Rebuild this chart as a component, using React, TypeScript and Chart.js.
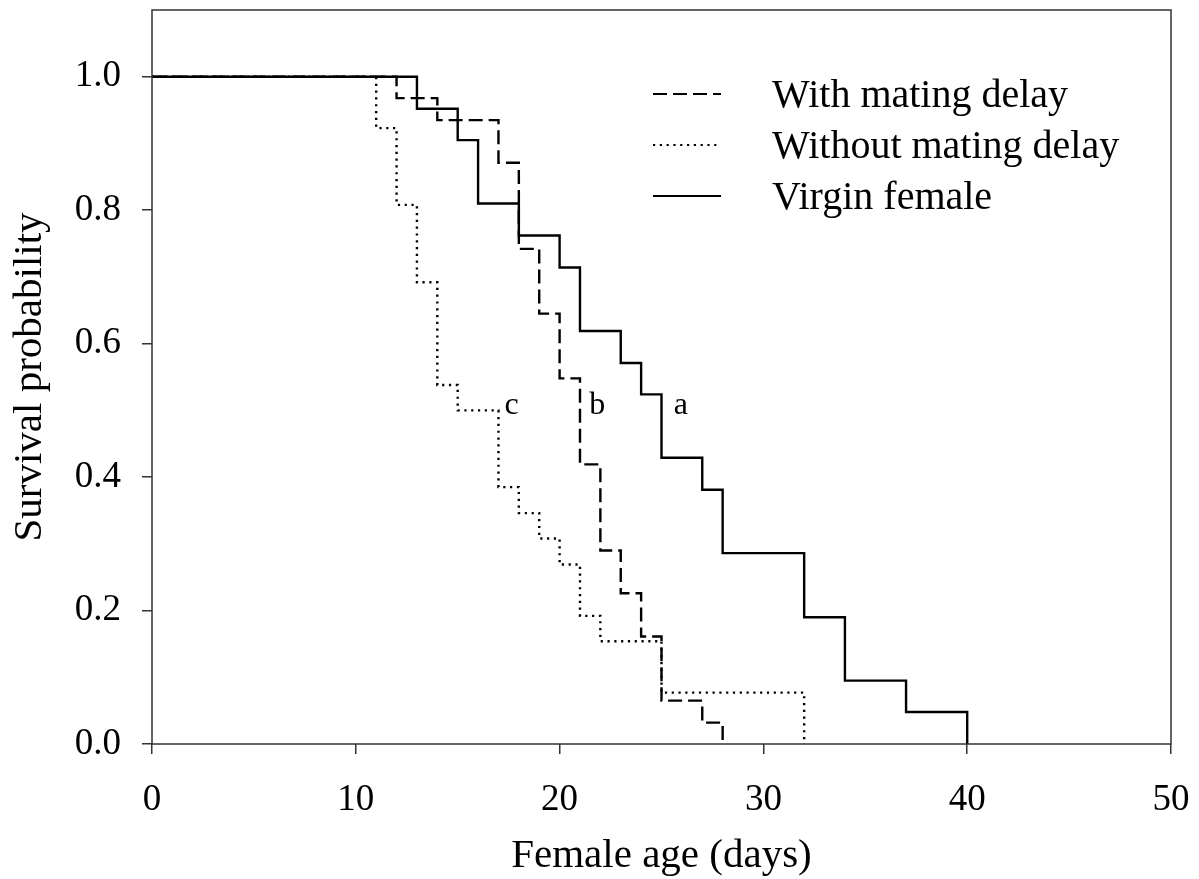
import React, { useEffect, useRef } from "react";
import { Chart, registerables } from "chart.js";

Chart.register(...registerables);

const withDelayDays = [0, 12, 14, 17, 18, 19, 20, 21, 22, 23, 24, 25, 27, 28];
const withDelaySurv = [1.0, 0.968, 0.935, 0.871, 0.742, 0.645, 0.548, 0.419, 0.29, 0.226, 0.161, 0.065, 0.032, 0.0];

const withoutDelayDays = [0, 11, 12, 13, 14, 15, 17, 18, 19, 20, 21, 22, 25, 32];
const withoutDelaySurv = [1.0, 0.923, 0.808, 0.692, 0.538, 0.5, 0.385, 0.346, 0.308, 0.269, 0.192, 0.154, 0.077, 0.0];

const virginDays = [0, 13, 15, 16, 18, 20, 21, 23, 24, 25, 27, 28, 32, 34, 37, 40];
const virginSurv = [1.0, 0.952, 0.905, 0.81, 0.762, 0.714, 0.619, 0.571, 0.524, 0.429, 0.381, 0.286, 0.19, 0.095, 0.048, 0.0];

const seriesNames = ["With mating delay", "Without mating delay", "Virgin female"];

const xTicks = [0, 10, 20, 30, 40, 50];
const yTicks = [0, 0.2, 0.4, 0.6, 0.8, 1.0];

const letterLabels = ["c", "b", "a"];
const letterX = [17.65, 21.85, 25.95];
const letterY = [0.51, 0.51, 0.51];

const FONT = "'Liberation Serif', 'Times New Roman', serif";

function toPoints(xs: number[], ys: number[]) {
  return xs.map((x, i) => ({ x, y: ys[i] }));
}

export default function App() {
  const ref = useRef<HTMLCanvasElement | null>(null);

  useEffect(() => {
    document.body.style.margin = "0";
    const canvas = ref.current;
    if (!canvas) return;

    const dashes = [[14, 6], [2.2, 4.6], []];

    const extras = {
      id: "extras",
      afterDatasetsDraw(chart: any) {
        const ctx = chart.ctx;
        const { left, right, top, bottom } = chart.chartArea;
        const xs = chart.scales.x;
        const ys = chart.scales.y;
        ctx.save();
        // frame
        ctx.strokeStyle = "#333";
        ctx.lineWidth = 1.5;
        ctx.setLineDash([]);
        ctx.strokeRect(left, top, right - left, bottom - top);
        // letters
        ctx.fillStyle = "#000";
        ctx.font = `32px ${FONT}`;
        ctx.textAlign = "center";
        ctx.textBaseline = "alphabetic";
        letterLabels.forEach((t, i) => {
          ctx.fillText(t, xs.getPixelForValue(letterX[i]), ys.getPixelForValue(letterY[i]) + 10);
        });
        // legend
        ctx.font = `40px ${FONT}`;
        ctx.textAlign = "left";
        ctx.textBaseline = "middle";
        const rowY = [94, 145, 196];
        seriesNames.forEach((name, i) => {
          ctx.beginPath();
          ctx.setLineDash(dashes[i]);
          ctx.lineWidth = 2;
          ctx.strokeStyle = "#000";
          ctx.moveTo(653, rowY[i]);
          ctx.lineTo(721, rowY[i]);
          ctx.stroke();
          ctx.setLineDash([]);
          ctx.fillText(name, 772, rowY[i] + 2);
        });
        ctx.restore();
      },
    };

    const chart = new Chart(canvas, {
      type: "line",
      data: {
        datasets: [
          {
            label: seriesNames[2],
            data: toPoints(virginDays, virginSurv),
            borderColor: "#000",
            borderWidth: 2.4,
            stepped: true,
            pointRadius: 0,
            fill: false,
            order: 0,
          },
          {
            label: seriesNames[0],
            data: toPoints(withDelayDays, withDelaySurv),
            borderColor: "#000",
            borderWidth: 2.4,
            borderDash: dashes[0],
            stepped: true,
            pointRadius: 0,
            fill: false,
            order: 1,
          },
          {
            label: seriesNames[1],
            data: toPoints(withoutDelayDays, withoutDelaySurv),
            borderColor: "#000",
            borderWidth: 2.4,
            borderDash: dashes[1],
            stepped: true,
            pointRadius: 0,
            fill: false,
            order: 2,
          },
        ],
      },
      options: {
        animation: false,
        responsive: false,
        maintainAspectRatio: false,
        layout: { padding: { left: 0, top: 10, right: 28, bottom: 0 } },
        plugins: { legend: { display: false }, tooltip: { enabled: false } },
        scales: {
          x: {
            type: "linear",
            min: 0,
            max: 50,
            afterFit: (s: any) => {
              s.height = 135;
              s.paddingLeft = 0;
              s.paddingRight = 0;
            },
            afterBuildTicks: (s: any) => {
              s.ticks = xTicks.map((v) => ({ value: v }));
            },
            border: { display: false },
            grid: { drawOnChartArea: false, drawTicks: true, tickLength: 10, color: "#333", lineWidth: 1.5 },
            ticks: { color: "#000", font: { family: FONT, size: 37 }, padding: 24, maxRotation: 0, autoSkip: false },
            title: {
              display: true,
              text: "Female age (days)",
              color: "#000",
              font: { family: FONT, size: 41, lineHeight: 1.0 },
              padding: { top: 0, bottom: 2 },
            },
          },
          y: {
            type: "linear",
            min: 0,
            max: 1.1,
            afterFit: (s: any) => {
              s.width = 152;
              s.paddingTop = 0;
              s.paddingBottom = 0;
            },
            afterBuildTicks: (s: any) => {
              s.ticks = yTicks.map((v) => ({ value: v }));
            },
            border: { display: false },
            grid: { drawOnChartArea: false, drawTicks: true, tickLength: 10, color: "#333", lineWidth: 1.5 },
            ticks: {
              color: "#000",
              font: { family: FONT, size: 37 },
              padding: 21,
              autoSkip: false,
              callback: (v: any) => Number(v).toFixed(1),
            },
            title: {
              display: true,
              text: "Survival probability",
              color: "#000",
              font: { family: FONT, size: 41, lineHeight: 1.0 },
              padding: { top: 10, bottom: 0 },
            },
          },
        },
      },
      plugins: [extras],
    });

    return () => chart.destroy();
  }, []);

  return (
    <div style={{ width: 1199, height: 879, background: "#fff" }}>
      <canvas ref={ref} width={1199} height={879} style={{ display: "block" }} />
    </div>
  );
}
